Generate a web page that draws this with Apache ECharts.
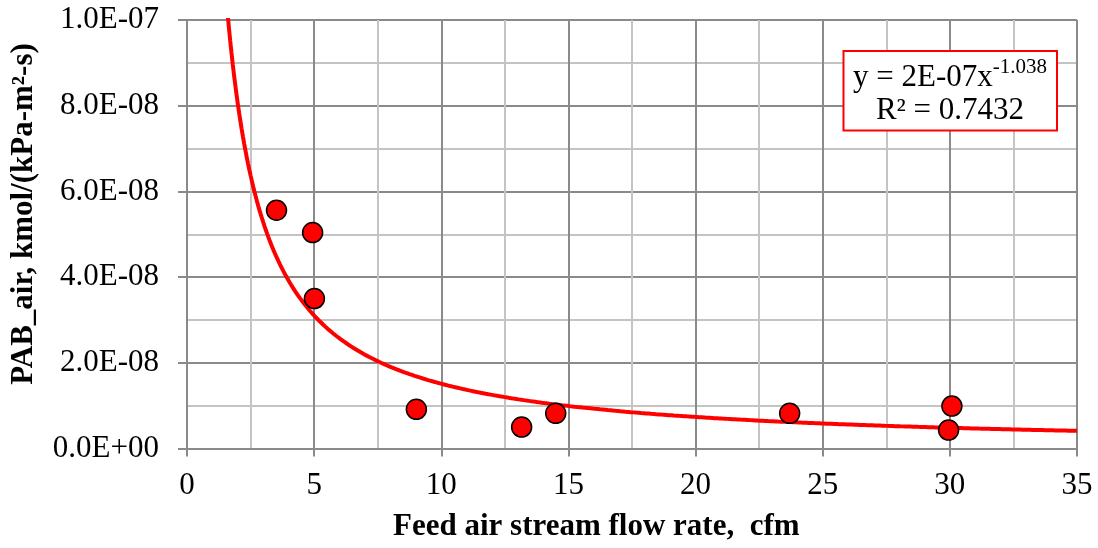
<!DOCTYPE html>
<html>
<head>
<meta charset="utf-8">
<script src="https://cdn.jsdelivr.net/npm/echarts@6/dist/echarts.min.js"></script>
<style>
  html, body { margin: 0; padding: 0; background: #fff; }
  #chart { width: 1098px; height: 548px; }
</style>
</head>
<body>
<div id="chart"></div>
<script>
// Measured feed air flow rate (cfm) and mass transfer coefficient PAB_air
const flowRate = [3.52, 4.94, 5.01, 9.02, 13.16, 14.50, 23.70, 30.08, 29.95];
const pabAir   = [5.56e-8, 5.04e-8, 3.50e-8, 0.915e-8, 0.50e-8, 0.82e-8, 0.82e-8, 0.99e-8, 0.43e-8];

// Power trendline y = a * x^b fitted to the points above
const trendCoef = 1.65e-7;
const trendExp = -1.038;
const trendR2 = '0.7432';
const trendStartX = 1.5;
const trendEndX = 35;

const xTicks = { min: 0, max: 35, interval: 5 };
const yTicks = { min: 0, max: 1e-7, interval: 2e-8 };

const FONT = '"Liberation Serif", "Times New Roman", serif';
const MAJOR = '#8a8a8a';
const MINOR = '#c4c4c4';

function sci(v) {
  const parts = v.toExponential(1).split('e');
  const exp = parseInt(parts[1], 10);
  const sign = exp < 0 ? '-' : '+';
  return parts[0] + 'E' + sign + String(Math.abs(exp)).padStart(2, '0');
}

const scatterData = flowRate.map((x, i) => [x, pabAir[i]]);

const trendData = [];
for (let x = trendStartX; x <= trendEndX + 1e-9; x += 0.05) {
  trendData.push([x, trendCoef * Math.pow(x, trendExp)]);
}

const coefText = trendCoef.toExponential(0).replace('e', 'E').replace(/E([+-])(\d)$/, 'E$10$2');
const eqLine1 = 'y = ' + coefText + 'x';
const eqSup = trendExp.toFixed(3);
const eqLine2 = 'R² = ' + trendR2;

const chart = echarts.init(document.getElementById('chart'), null, { renderer: 'canvas' });

chart.setOption({
  animation: false,
  backgroundColor: '#ffffff',
  grid: { left: 187, right: 21, top: 20, bottom: 99.5 },
  xAxis: {
    type: 'value',
    min: xTicks.min, max: xTicks.max, interval: xTicks.interval,
    axisLine: { show: true, onZero: false, lineStyle: { color: MAJOR, width: 2 } },
    axisTick: { show: true, inside: false, length: 8, lineStyle: { color: MAJOR, width: 2 } },
    axisLabel: { color: '#000', fontFamily: FONT, fontSize: 31, margin: 22 },
    splitLine: { show: true, lineStyle: { color: MAJOR, width: 2 } },
    minorTick: { show: false, splitNumber: 2 },
    minorSplitLine: { show: true, lineStyle: { color: MINOR, width: 2 } }
  },
  yAxis: {
    type: 'value',
    min: yTicks.min, max: yTicks.max, interval: yTicks.interval,
    axisLine: { show: true, onZero: false, lineStyle: { color: MAJOR, width: 2 } },
    axisTick: { show: true, inside: false, length: 9, lineStyle: { color: MAJOR, width: 2 } },
    axisLabel: { color: '#000', fontFamily: FONT, fontSize: 31, margin: 28, formatter: sci },
    splitLine: { show: true, lineStyle: { color: MAJOR, width: 2 } },
    minorTick: { show: false, splitNumber: 2 },
    minorSplitLine: { show: true, lineStyle: { color: MINOR, width: 2 } }
  },
  series: [
    {
      name: 'Power trendline',
      type: 'line',
      data: trendData,
      showSymbol: false,
      clip: true,
      smooth: false,
      lineStyle: { color: '#ff0000', width: 4 },
      z: 2
    },
    {
      name: 'PAB_air',
      type: 'scatter',
      data: scatterData,
      symbol: 'circle',
      symbolSize: 20,
      itemStyle: { color: '#ff0000', borderColor: '#000000', borderWidth: 1.5, opacity: 1 },
      z: 3
    }
  ],
  graphic: [
    {
      type: 'text',
      left: 393, top: 511,
      style: {
        text: 'Feed air stream flow rate,  cfm',
        font: 'bold 31px ' + FONT,
        fill: '#000'
      }
    },
    {
      type: 'text',
      x: 24, y: 214,
      rotation: Math.PI / 2,
      style: {
        text: 'PAB_air, kmol/(kPa-m²-s)',
        font: 'bold 31px ' + FONT,
        fill: '#000',
        align: 'center',
        verticalAlign: 'middle'
      }
    },
    {
      type: 'rect',
      shape: { x: 843.5, y: 51, width: 213.5, height: 79.5 },
      style: { fill: '#ffffff', stroke: '#ff0000', lineWidth: 2 },
      z: 10
    },
    {
      // equation line with superscript exponent
      type: 'text',
      x: 950, y: 75,
      z: 11,
      style: {
        text: '{m|' + eqLine1 + '}{s|' + eqSup + '}',
        align: 'center',
        verticalAlign: 'middle',
        fill: '#000',
        rich: {
          m: { fontFamily: FONT, fontSize: 31, lineHeight: 36, verticalAlign: 'bottom' },
          s: { fontFamily: FONT, fontSize: 21, lineHeight: 30, verticalAlign: 'top' }
        }
      }
    },
    {
      type: 'text',
      x: 950, y: 111,
      z: 11,
      style: {
        text: eqLine2,
        font: '31px ' + FONT,
        align: 'center',
        verticalAlign: 'middle',
        fill: '#000'
      }
    }
  ]
});
</script>
</body>
</html>
